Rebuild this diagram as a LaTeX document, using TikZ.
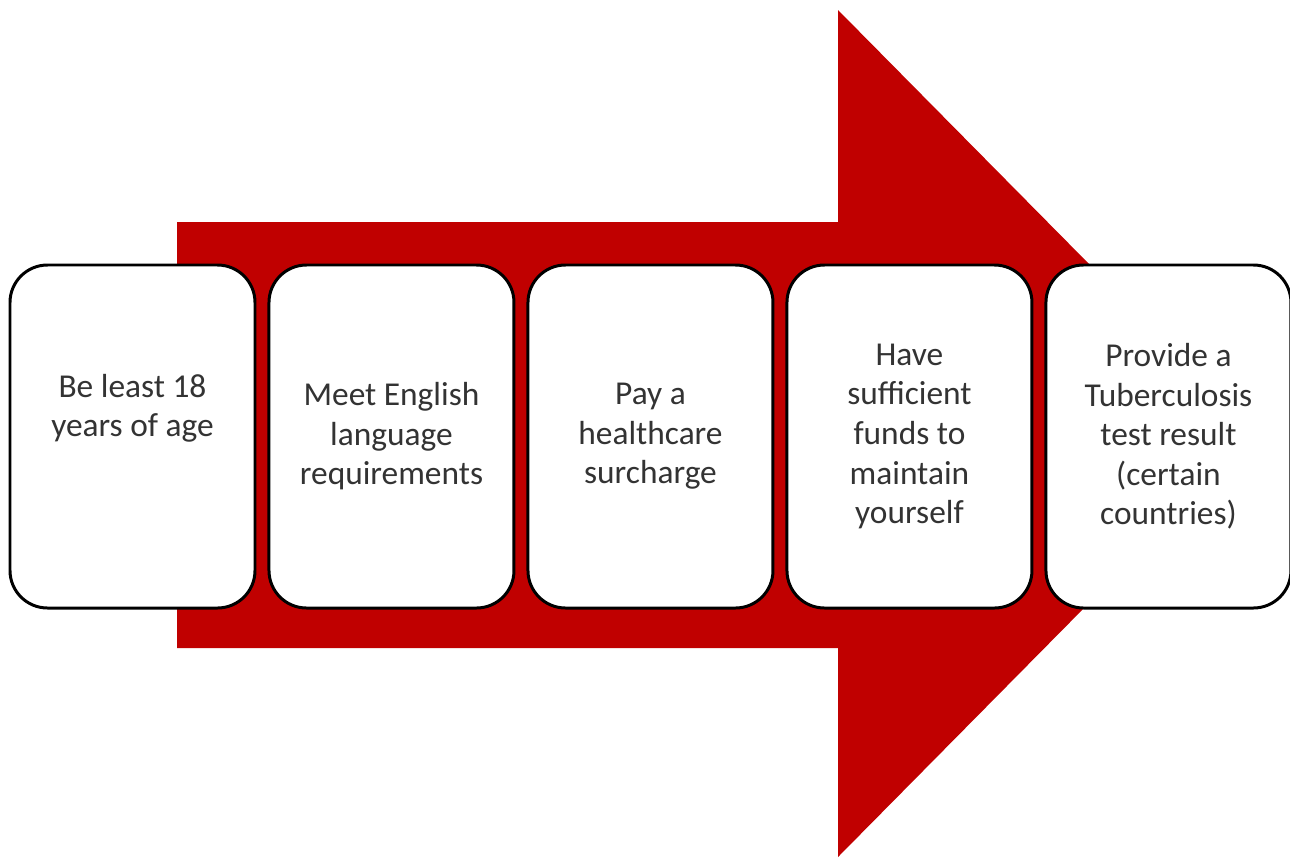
\documentclass[tikz,border=0pt]{standalone}
\usepackage{fontspec}
\setmainfont{Carlito}
\usetikzlibrary{positioning}
\definecolor{arrowred}{RGB}{192,0,0}

\begin{document}
\begin{tikzpicture}[semithick,
req_box/.style = { draw = black, line width = 1.7pt, fill = white, rounded corners = 0.75cm,
minimum width = 4.9cm, minimum height = 6.86cm, align = center, text = black!80,
font = \fontsize{19pt}{22.5pt}\selectfont },
big_arrow/.style = { fill = arrowred, draw = none }]
\useasboundingbox (0,0) rectangle (25.8,-17.14);
\fill[big_arrow] (3.54,-4.44) -- (16.76,-4.44) -- (16.76,-0.2) -- (25.13,-8.67)
-- (16.76,-17.14) -- (16.76,-12.96) -- (3.54,-12.96) -- cycle;
\node[req_box] (age) at (2.65,-8.73) {Be least 18\\years of age\\[13pt]\mbox{}};
\node[req_box, right = 0.22cm of age] (english) {Meet English\\language\\requirements};
\node[req_box, right = 0.22cm of english] (health) {Pay a\\healthcare\\surcharge};
\node[req_box, right = 0.22cm of health] (funds) {Have\\sufficient\\funds to\\maintain\\yourself};
\node[req_box, right = 0.22cm of funds] (tb) {Provide a\\Tuberculosis\\test result\\(certain\\countries)};
\end{tikzpicture}
\end{document}
